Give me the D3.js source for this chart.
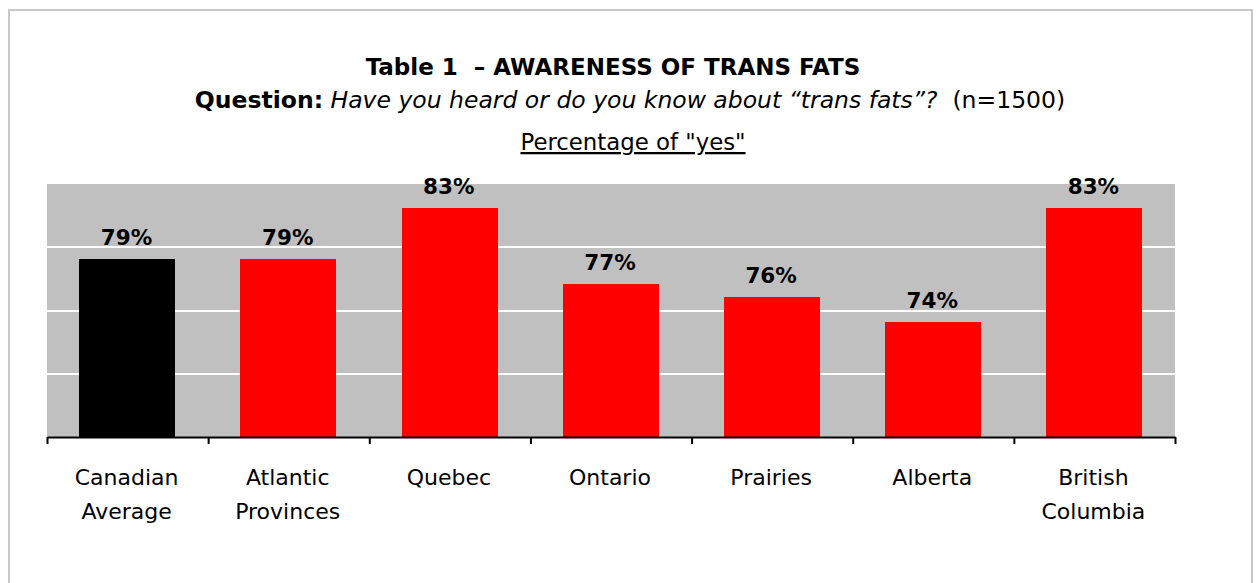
<!DOCTYPE html>
<html><head><meta charset="utf-8">
<script src="https://cdn.jsdelivr.net/npm/d3@7"></script>
<style>html,body{margin:0;padding:0;background:#fff;}svg{display:block;} text{white-space:pre;}</style>
</head><body>
<svg id="chart" width="1256" height="583"></svg>
<script>
const categories = ["Canadian Average","Atlantic Provinces","Quebec","Ontario","Prairies","Alberta","British Columbia"];
const categoryLines = [["Canadian","Average"],["Atlantic","Provinces"],["Quebec"],["Ontario"],["Prairies"],["Alberta"],["British","Columbia"]];
const values = [79,79,83,77,76,74,83];
const barColors = ["#000000","#ff0000","#ff0000","#ff0000","#ff0000","#ff0000","#ff0000"];
const gridValues = [70,75,80];
const titleText = "Table 1  \u2013 AWARENESS OF TRANS FATS";
const subtitleParts = [["Question:","bold","normal"],[" Have you heard or do you know about \u201ctrans fats\u201d?","normal","italic"],["  (n=1500)","normal","normal"]];
const headerText = "Percentage of \"yes\"";

const FONT = "'DejaVu Sans',sans-serif";
const svg = d3.select("#chart");
const L = 47, R = 1175, T = 184, B = 437;

// frame
svg.append("rect").attr("x",9).attr("y",10).attr("width",1243).attr("height",620)
  .attr("fill","none").attr("stroke","#c8c8c8").attr("stroke-width",2);

const x = d3.scaleBand().domain(categories).range([L,R]).paddingInner(0.4).paddingOuter(0.2);
const y = d3.scaleLinear().domain([65,85]).range([B,T]);

svg.append("rect").attr("x",L).attr("y",T).attr("width",R-L).attr("height",B-T).attr("fill","#c0c0c0");

svg.append("g").selectAll("line").data(gridValues).join("line")
  .attr("x1",L).attr("x2",R).attr("y1",d=>Math.round(y(d))).attr("y2",d=>Math.round(y(d)))
  .attr("stroke","#fff").attr("stroke-width",2);

svg.append("g").selectAll("rect").data(values).join("rect")
  .attr("x",(d,i)=>Math.round(x(categories[i]))).attr("width",Math.round(x.bandwidth())-1)
  .attr("y",d=>Math.round(y(d))-1).attr("height",d=>B-Math.round(y(d))+1).attr("fill",(d,i)=>barColors[i]);

svg.append("g").selectAll("text").data(values).join("text")
  .attr("x",(d,i)=>x(categories[i])+x.bandwidth()/2-1).attr("y",d=>y(d)-15)
  .attr("text-anchor","middle").attr("font-family",FONT).attr("font-weight","bold")
  .attr("font-size",21.5).attr("fill","#000").text(d=>d+"%");

// axis with boundary ticks
const xb = d3.scaleLinear().domain([0,categories.length]).range([L,R]);
const axis = svg.append("g").attr("transform",`translate(0,${B})`)
  .call(d3.axisBottom(xb).tickValues(d3.range(categories.length+1)).tickFormat("").tickSize(7).tickSizeOuter(0));
axis.select(".domain").attr("stroke","#000").attr("stroke-width",2);
axis.selectAll(".tick line").attr("stroke","#000").attr("stroke-width",2);

// category labels
const lab = svg.append("g").selectAll("text").data(categoryLines).join("text")
  .attr("x",(d,i)=>x(categories[i])+x.bandwidth()/2-1).attr("y",485)
  .attr("text-anchor","middle").attr("font-family",FONT).attr("font-size",22).attr("fill","#000");
lab.selectAll("tspan").data(d=>d).join("tspan")
  .attr("x",function(){return this.parentNode.getAttribute("x");})
  .attr("dy",(d,j)=>j===0?0:34).text(d=>d);

// titles
svg.append("text").attr("x",613).attr("y",75).attr("text-anchor","middle")
  .attr("font-family",FONT).attr("font-weight","bold").attr("font-size",23).text(titleText);
const sub = svg.append("text").attr("x",630).attr("y",108).attr("text-anchor","middle")
  .attr("font-family",FONT).attr("font-size",23.5);
sub.selectAll("tspan").data(subtitleParts).join("tspan")
  .attr("font-weight",d=>d[1]).attr("font-style",d=>d[2]).text(d=>d[0]);
svg.append("text").attr("x",633).attr("y",150).attr("text-anchor","middle")
  .attr("font-family",FONT).attr("font-size",22.8).attr("text-decoration","underline").text(headerText);
</script>
</body></html>
